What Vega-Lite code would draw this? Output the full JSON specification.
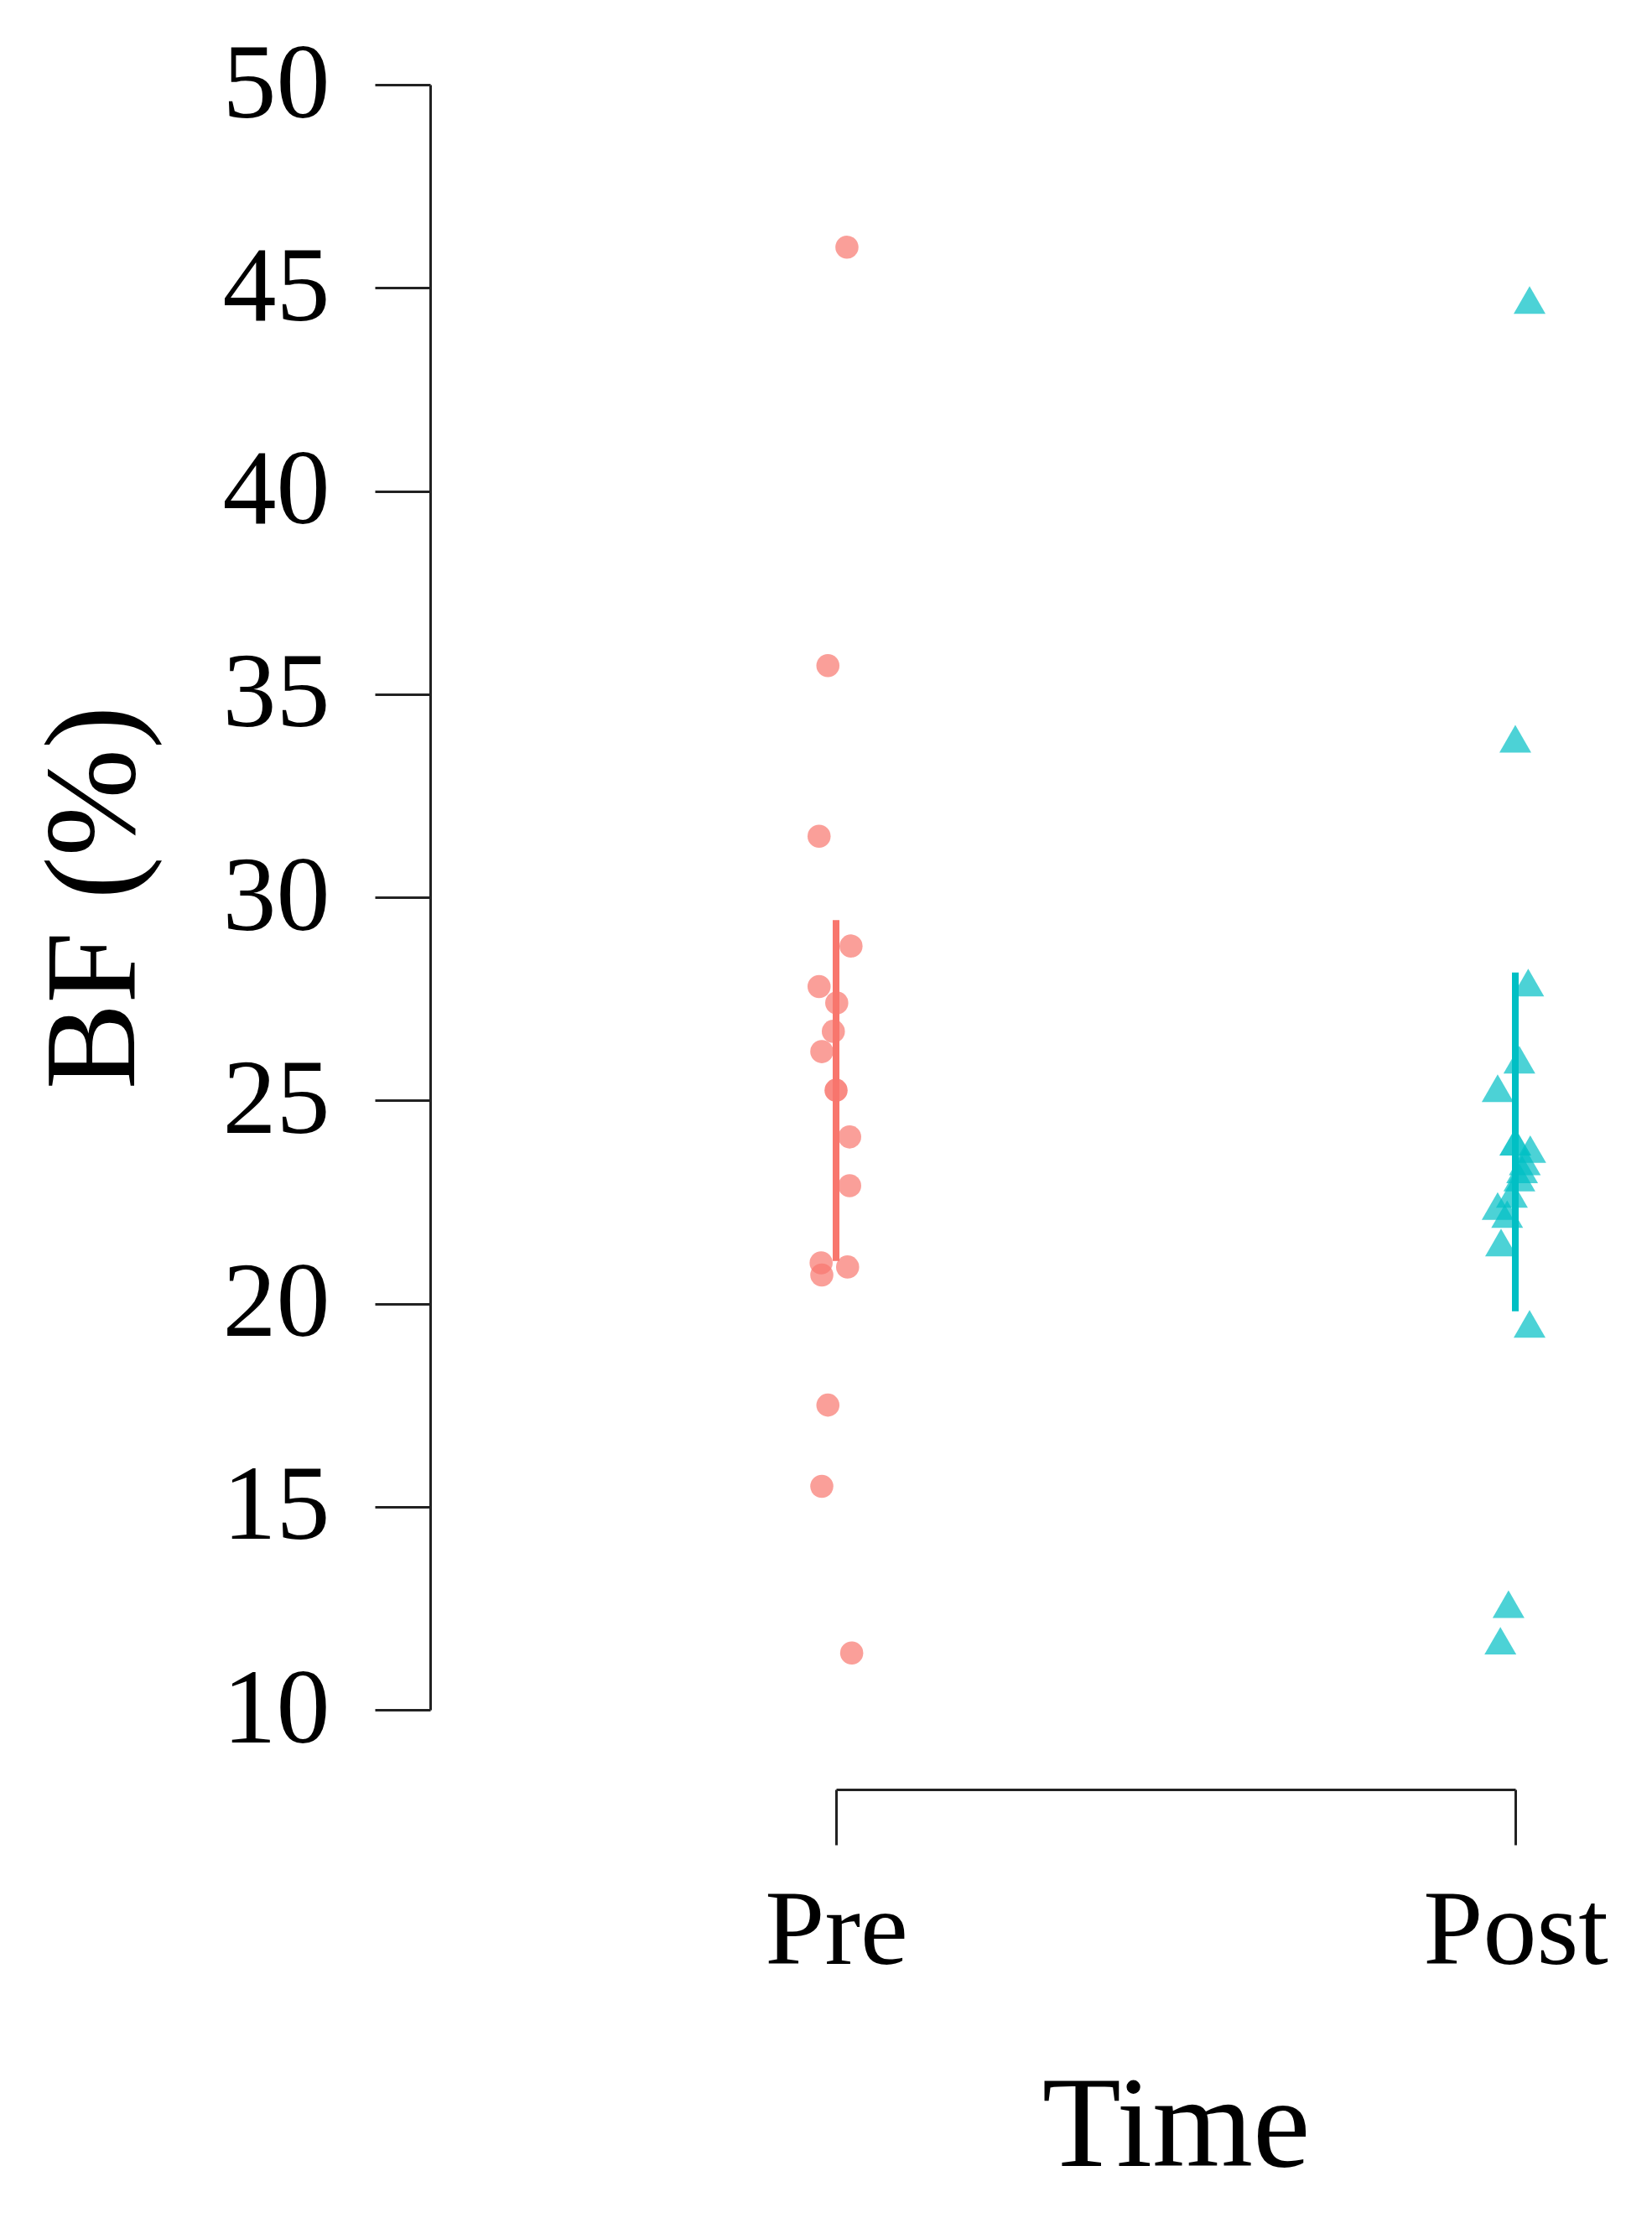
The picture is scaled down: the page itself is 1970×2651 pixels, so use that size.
{
  "$schema": "https://vega.github.io/schema/vega-lite/v6.json",
  "width": 810,
  "height": 1938,
  "autosize": {"type": "none"},
  "padding": {"left": 997, "top": 101, "right": 163, "bottom": 612},
  "background": "white",
  "config": {"view": {"stroke": null}, "font": "Liberation Serif"},
  "datasets": {
    "points": [
      {"Time": "Pre", "BF": 46.0, "jitter": 0.016},
      {"Time": "Pre", "BF": 35.7, "jitter": -0.012},
      {"Time": "Pre", "BF": 31.5, "jitter": -0.025},
      {"Time": "Pre", "BF": 28.8, "jitter": 0.022},
      {"Time": "Pre", "BF": 27.8, "jitter": -0.025},
      {"Time": "Pre", "BF": 27.4, "jitter": 0.001},
      {"Time": "Pre", "BF": 26.7, "jitter": -0.004},
      {"Time": "Pre", "BF": 26.2, "jitter": -0.021},
      {"Time": "Pre", "BF": 24.1, "jitter": 0.020},
      {"Time": "Pre", "BF": 22.9, "jitter": 0.020},
      {"Time": "Pre", "BF": 21.0, "jitter": -0.022},
      {"Time": "Pre", "BF": 20.7, "jitter": -0.021},
      {"Time": "Pre", "BF": 20.9, "jitter": 0.017},
      {"Time": "Pre", "BF": 17.5, "jitter": -0.012},
      {"Time": "Pre", "BF": 15.5, "jitter": -0.021},
      {"Time": "Pre", "BF": 11.4, "jitter": 0.023},
      {"Time": "Post", "BF": 44.7, "jitter": 0.021},
      {"Time": "Post", "BF": 33.9, "jitter": 0.000},
      {"Time": "Post", "BF": 27.9, "jitter": 0.019},
      {"Time": "Post", "BF": 26.0, "jitter": 0.006},
      {"Time": "Post", "BF": 25.3, "jitter": -0.026},
      {"Time": "Post", "BF": 23.8, "jitter": 0.022},
      {"Time": "Post", "BF": 23.5, "jitter": 0.014},
      {"Time": "Post", "BF": 23.3, "jitter": 0.010},
      {"Time": "Post", "BF": 23.1, "jitter": 0.006},
      {"Time": "Post", "BF": 22.7, "jitter": -0.005},
      {"Time": "Post", "BF": 22.4, "jitter": -0.026},
      {"Time": "Post", "BF": 22.2, "jitter": -0.012},
      {"Time": "Post", "BF": 21.5, "jitter": -0.021},
      {"Time": "Post", "BF": 19.5, "jitter": 0.021},
      {"Time": "Post", "BF": 12.6, "jitter": -0.010},
      {"Time": "Post", "BF": 11.7, "jitter": -0.022}
    ],
    "summary": [
      {"Time": "Pre", "mean": 25.25, "lo": 21.05, "hi": 29.44},
      {"Time": "Post", "mean": 23.98, "lo": 19.81, "hi": 28.15}
    ]
  },
  "encoding": {
    "x": {
      "field": "Time",
      "type": "nominal",
      "sort": ["Pre", "Post"],
      "scale": {"type": "point", "padding": 0, "domain": ["Pre", "Post"]},
      "axis": {
        "title": "Time",
        "offset": 95,
        "grid": false,
        "tickSize": 66,
        "tickWidth": 3,
        "tickColor": "#222222",
        "domainWidth": 3,
        "domainColor": "#222222",
        "labelAngle": 0,
        "labelLimit": 0,
        "labelOverlap": false,
        "labelBound": false,
        "labelFont": "Liberation Serif",
        "labelFontSize": 128,
        "labelColor": "#000000",
        "labelPadding": 40,
        "titleFont": "Liberation Serif",
        "titleFontSize": 154,
        "titleFontWeight": "normal",
        "titleColor": "#000000",
        "titlePadding": 126
      }
    }
  },
  "layer": [
    {
      "data": {"name": "points"},
      "mark": {"type": "point", "filled": true, "opacity": 0.7, "strokeWidth": 0},
      "encoding": {
        "xOffset": {"field": "jitter", "type": "quantitative", "scale": {"domain": [-0.5, 0.5], "range": [-405, 405]}},
        "y": {
          "field": "BF",
          "type": "quantitative",
          "scale": {"domain": [10, 50], "nice": false, "zero": false},
          "axis": {
            "title": "BF (%)",
            "offset": 484,
            "values": [10, 15, 20, 25, 30, 35, 40, 45, 50],
            "grid": false,
            "tickSize": 66,
            "tickWidth": 3,
            "tickColor": "#222222",
            "domainWidth": 3,
            "domainColor": "#222222",
            "labelFont": "Liberation Serif",
            "labelFontSize": 128,
            "labelColor": "#000000",
            "labelPadding": 54,
            "labelLimit": 0,
            "titleFont": "Liberation Serif",
            "titleFontSize": 154,
            "titleFontWeight": "normal",
            "titleColor": "#000000",
            "titlePadding": 122
          }
        },
        "color": {"field": "Time", "type": "nominal", "scale": {"domain": ["Pre", "Post"], "range": ["#F8766D", "#00BFC4"]}, "legend": null},
        "shape": {"field": "Time", "type": "nominal", "scale": {"domain": ["Pre", "Post"], "range": ["circle", "triangle-up"]}, "legend": null},
        "size": {"field": "Time", "type": "ordinal", "scale": {"domain": ["Pre", "Post"], "range": [760, 1444]}, "legend": null}
      }
    },
    {
      "data": {"name": "summary"},
      "mark": {"type": "rule", "strokeWidth": 8},
      "encoding": {
        "y": {"field": "lo", "type": "quantitative"},
        "y2": {"field": "hi"},
        "color": {"field": "Time", "type": "nominal", "legend": null}
      }
    },
    {
      "data": {"name": "summary"},
      "mark": {"type": "point", "filled": true, "opacity": 0.85, "strokeWidth": 0},
      "encoding": {
        "y": {"field": "mean", "type": "quantitative"},
        "color": {"field": "Time", "type": "nominal", "legend": null},
        "shape": {"field": "Time", "type": "nominal", "legend": null},
        "size": {"field": "Time", "type": "ordinal", "legend": null}
      }
    }
  ]
}
